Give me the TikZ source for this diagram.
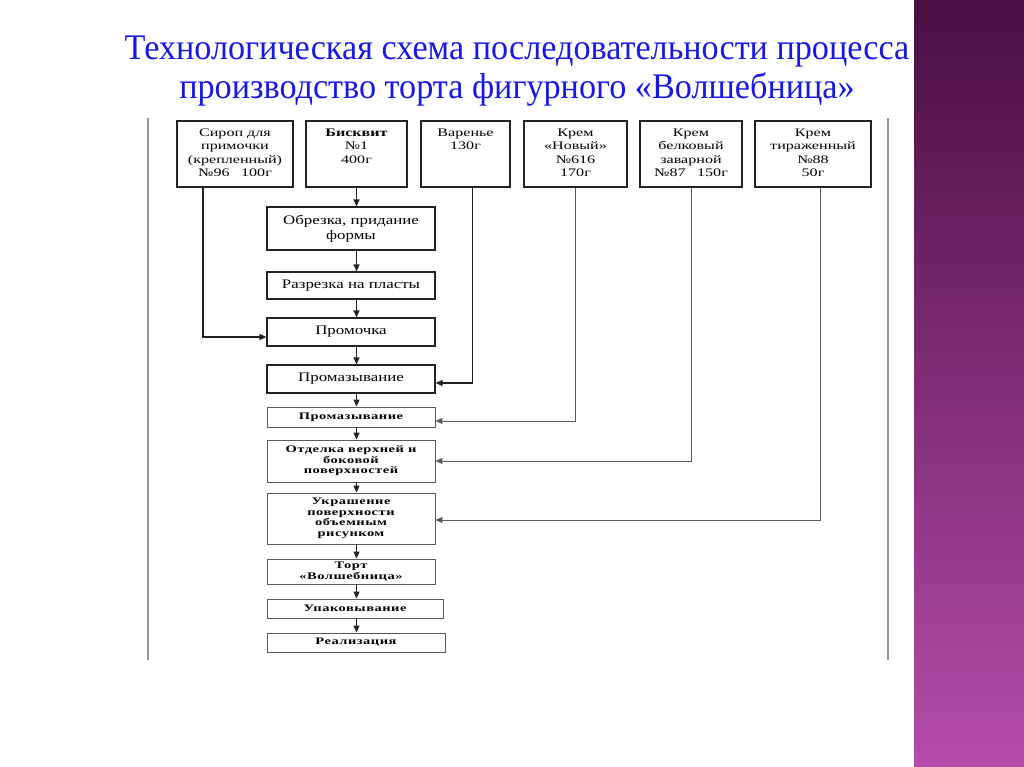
\documentclass[tikz,border=0pt]{standalone}
\usepackage{fontspec}
\setmainfont{Liberation Serif}
\newfontfamily\titlefont[FakeStretch=0.95]{Liberation Serif}
\newfontfamily\srcfont[FakeStretch=1.4]{Liberation Serif}
\newfontfamily\boxfont[FakeStretch=1.3]{Liberation Serif}
\newfontfamily\lowfont[FakeStretch=1.45,LetterSpace=5]{Liberation Serif}
\usetikzlibrary{arrows.meta}
\definecolor{titleblue}{RGB}{24,24,230}
\definecolor{framegray}{RGB}{150,150,150}
\definecolor{boxline}{RGB}{35,35,35}
\definecolor{lowline}{RGB}{90,90,90}
\definecolor{plumtop}{RGB}{74,14,66}
\definecolor{plumbottom}{RGB}{180,76,170}
\newcommand{\toptext}[1]{\vbox to 54pt{\hbox{\begin{tabular}{@{}c@{}}#1\end{tabular}}\vfil}}

\begin{document}
\begin{tikzpicture}[x=1pt,y=-1pt,
    title/.style={text=titleblue, align=center, inner sep=0pt, font=\titlefont\fontsize{36}{39}\selectfont},
    source/.style={draw=boxline, line width=1.2pt, minimum height=66, inner sep=0pt, font=\srcfont\fontsize{11.5}{13.5}\selectfont},
    stage/.style={draw=boxline, line width=1.2pt, minimum width=168, inner sep=0pt, align=center, font=\boxfont\fontsize{13}{14.5}\selectfont},
    stagelow/.style={stage, draw=lowline, line width=0.9pt, font=\lowfont\bfseries\fontsize{10}{10.5}\selectfont},
    flow/.style={draw=boxline, line width=1.2pt, -{Triangle[length=7pt,width=6pt]}},
    cream/.style={flow, draw=lowline, line width=0.8pt}
]
\useasboundingbox (0,0) rectangle (1024,767);
\fill[white] (0,0) rectangle (1024,767);
\shade[top color=plumtop, bottom color=plumbottom] (914,0) rectangle (1024,767);

\node[title] (title) at (517,71) {Технологическая схема последовательности процесса\\производство торта фигурного «Волшебница»};

% frame
\draw[framegray, line width=1.2pt] (148,118) -- (148,660);
\draw[framegray, line width=1.2pt] (888,118) -- (888,660);

% raw materials
\node[source, minimum width=116] (sirop) at (235,154) {\toptext{Сироп для\\примочки\\(крепленный)\\№96\quad 100г}};
\node[source, minimum width=101] (bisk) at (356.5,154) {\toptext{\bfseries Бисквит\\№1\\400г}};
\node[source, minimum width=89] (var) at (465.5,154) {\toptext{Варенье\\130г}};
\node[source, minimum width=103] (novyi) at (575.5,154) {\toptext{Крем\\«Новый»\\№616\\170г}};
\node[source, minimum width=102] (belk) at (691,154) {\toptext{Крем\\белковый\\заварной\\№87\quad 150г}};
\node[source, minimum width=116] (tirazh) at (813,154) {\toptext{Крем\\тираженный\\№88\\50г}};

% operations
\node[stage, minimum height=43] (obr) at (351,228.5) {Обрезка, придание\\формы};
\node[stage, minimum height=27] (razr) at (351,285.5) {Разрезка на пласты};
\node[stage, minimum height=28] (promoch) at (351,332) {Промочка};
\node[stage, minimum height=28] (promaz) at (351,379) {Промазывание};
\node[stagelow, minimum height=20] (promazb) at (351,417) {Промазывание};
\node[stagelow, minimum height=42] (otdel) at (351,461) {Отделка верхней и\\боковой\\поверхностей};
\node[stagelow, minimum height=51] (ukr) at (351,518.5) {Украшение\\поверхности\\объемным\\рисунком};
\node[stagelow, minimum height=25] (tort) at (351,571.5) {Торт\\«Волшебница»};
\node[stagelow, minimum height=19, minimum width=176] (upak) at (355,608.5) {Упаковывание};
\node[stagelow, minimum height=19, minimum width=178] (real) at (356,642.5) {Реализация};

% main line
\draw[flow] (bisk) -- (bisk |- obr.north);
\foreach \a/\b in {obr/razr, razr/promoch, promoch/promaz, promaz/promazb, promazb/otdel, otdel/ukr, ukr/tort, tort/upak, upak/real}
    \draw[flow] (\a.south -| bisk) -- (\b.north -| bisk);

% side feeds
\draw[flow] ([xshift=-32]sirop.south) |- ([yshift=-5]promoch.west);
\draw[flow] ([xshift=7]var.south) |- ([yshift=-4]promaz.east);
\draw[cream] (novyi.south) |- ([yshift=-4]promazb.east);
\draw[cream] (belk.south) |- (otdel.east);
\draw[cream] ([xshift=7]tirazh.south) |- ([yshift=-1.5]ukr.east);
\end{tikzpicture}
\end{document}
